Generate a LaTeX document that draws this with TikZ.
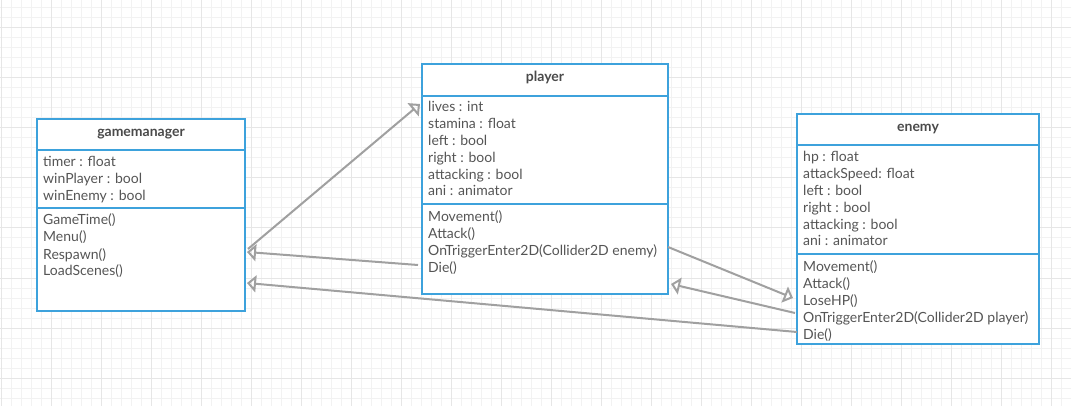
\documentclass[tikz,border=0pt]{standalone}
\usepackage{fontspec}
\setmainfont{Lato}
\usetikzlibrary{arrows.meta,calc}
\definecolor{boxblue}{HTML}{3DA2DC}
\definecolor{txtgray}{HTML}{555555}
\definecolor{titlegray}{HTML}{4A4A4A}
\definecolor{conngray}{HTML}{A0A0A0}
\definecolor{gridminor}{HTML}{F2F2F2}
\definecolor{gridmajor}{HTML}{E6E6E6}
\begin{document}
\begin{tikzpicture}[x=1pt,y=-1pt,
  umlbox/.style={draw=boxblue, line width=2pt, fill=white, inner sep=0pt, outer sep=0pt, anchor=north west},
  divider/.style={draw=boxblue, line width=2pt},
  member/.style={anchor=base west, inner sep=0pt, text=txtgray, font=\fontsize{14}{16}\selectfont},
  umltitle/.style={anchor=base, inner sep=0pt, text=titlegray, font=\fontsize{14}{16}\selectfont\bfseries},
  connector/.style={draw=conngray, line width=2pt, -{Triangle[open, length=9pt, width=17pt]}},
  minorline/.style={draw=gridminor, line width=1pt},
  majorline/.style={draw=gridmajor, line width=1pt},
]
\useasboundingbox (0,0) rectangle (1071,406);
\fill[white] (0,0) rectangle (1071,406);
% grid
\foreach \x in {1,11,...,1071} \draw[minorline] (\x,0) -- (\x,406);
\foreach \y in {8,18,...,406} \draw[minorline] (0,\y) -- (1071,\y);
\foreach \x in {1,51,...,1071} \draw[majorline] (\x,0) -- (\x,406);
\foreach \y in {28,78,...,406} \draw[majorline] (0,\y) -- (1071,\y);

% gamemanager
\node[umlbox, minimum width=208pt, minimum height=192pt] (gm) at (37,119) {};
\draw[divider] ($(gm.north west)+(0,31)$) -- ($(gm.north east)+(0,31)$);
\draw[divider] ($(gm.north west)+(0,89)$) -- ($(gm.north east)+(0,89)$);
\node[umltitle] (gmt) at (141,136.5) {gamemanager};
\foreach \t [count=\i] in {timer : float, winPlayer : bool, winEnemy : bool}
  \node[member] (gma\i) at (43,{167+17*(\i-1)}) {\t};
\foreach \t [count=\i] in {GameTime(), Menu(), Respawn(), LoadScenes()}
  \node[member] (gmm\i) at (43,{225+17*(\i-1)}) {\t};

% player
\node[umlbox, minimum width=246pt, minimum height=230pt] (pl) at (422,64) {};
\draw[divider] ($(pl.north west)+(0,32)$) -- ($(pl.north east)+(0,32)$);
\draw[divider] ($(pl.north west)+(0,140)$) -- ($(pl.north east)+(0,140)$);
\node[umltitle] (plt) at (545,81.5) {player};
\foreach \t [count=\i] in {lives : int, stamina : float, left : bool, right : bool, attacking : bool, ani : animator}
  \node[member] (pla\i) at (428,{112+16.8*(\i-1)}) {\t};
\foreach \t [count=\i] in {Movement(), Attack(), OnTriggerEnter2D(Collider2D enemy), Die()}
  \node[member] (plm\i) at (428,{222+16.8*(\i-1)}) {\t};

% enemy
\node[umlbox, minimum width=242pt, minimum height=230pt] (en) at (797,114) {};
\draw[divider] ($(en.north west)+(0,31)$) -- ($(en.north east)+(0,31)$);
\draw[divider] ($(en.north west)+(0,140)$) -- ($(en.north east)+(0,140)$);
\node[umltitle] (ent) at (918,131.5) {enemy};
\foreach \t [count=\i] in {hp : float, attackSpeed: float, left : bool, right : bool, attacking : bool, ani : animator}
  \node[member] (ena\i) at (803,{162+16.8*(\i-1)}) {\t};
\foreach \t [count=\i] in {Movement(), Attack(), LoseHP(), OnTriggerEnter2D(Collider2D player), Die()}
  \node[member] (enm\i) at (803,{272+16.8*(\i-1)}) {\t};

% connector end points
\coordinate (A1) at ($(gm.north east)+(3,130)$);
\coordinate (A2) at ($(pl.north west)+(-2,40)$);
\coordinate (B1) at ($(pl.north west)+(-4,201)$);
\coordinate (B2) at ($(gm.north east)+(2,133)$);
\coordinate (C1) at ($(en.north west)+(0,218)$);
\coordinate (C2) at ($(gm.north east)+(2,164)$);
\coordinate (D1) at ($(pl.north east)+(0,183)$);
\coordinate (D2) at ($(en.north west)+(-4,184)$);
\coordinate (E1) at ($(en.north west)+(-2,199)$);
\coordinate (E2) at ($(pl.north east)+(3,220)$);

\draw[connector] (A1) -- (A2);
\draw[connector] (B1) -- (B2);
\draw[connector] (C1) -- (C2);
\draw[connector] (D1) -- (D2);
\draw[connector] (E1) -- (E2);
\end{tikzpicture}
\end{document}
